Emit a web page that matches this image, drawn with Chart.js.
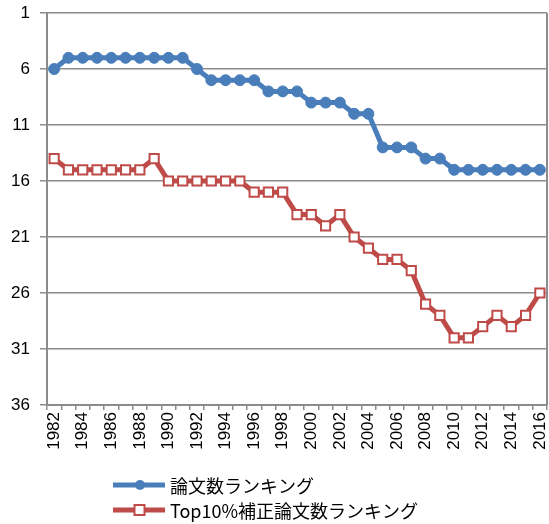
<html>
  <head>
    <script src="https://cdn.jsdelivr.net/npm/chart.js@4.4.0/dist/chart.umd.min.js"></script>
    <style>
      body { margin: 0; background: #fff; }
      #wrap { width: 549px; height: 524px; position: relative; }
    </style>
  </head>
  <body>
    <div id="wrap"><canvas id="myChart" width="549" height="524"></canvas></div>

    <script>
      // years 1982 - 2016
      var years = ['1982','1983','1984','1985','1986','1987','1988','1989','1990','1991',
        '1992','1993','1994','1995','1996','1997','1998','1999','2000','2001',
        '2002','2003','2004','2005','2006','2007','2008','2009','2010','2011',
        '2012','2013','2014','2015','2016']

      var paperRank = [6,5,5,5,5,5,5,5,5,5,
        6,7,7,7,7,8,8,8,9,9,
        9,10,10,13,13,13,14,14,15,15,
        15,15,15,15,15]

      var top10Rank = [14,15,15,15,15,15,15,14,16,16,
        16,16,16,16,17,17,17,19,19,20,
        19,21,22,23,23,24,27,28,30,30,
        29,28,29,28,26]

      var seriesNames = ['論文数ランキング', 'Top10%補正論文数ランキング']
      var blue = '#4A7EBB'
      var red = '#BE4B48'
      var gridColor = '#8C8C8C'
      var tickFont = { family: '"Liberation Sans", Arial, sans-serif', size: 17 }

      // right border + legend drawn under the plot
      var extras = {
        id: 'extras',
        afterDraw: function (chart) {
          var ctx = chart.ctx
          var a = chart.chartArea
          ctx.save()
          ctx.strokeStyle = gridColor
          ctx.lineWidth = 2
          ctx.beginPath()
          ctx.moveTo(a.right, a.top)
          ctx.lineTo(a.right, a.bottom)
          ctx.stroke()

          var rows = [485, 510]
          chart.data.datasets.forEach(function (ds, i) {
            var y = rows[i]
            ctx.strokeStyle = ds.borderColor
            ctx.lineWidth = 5
            ctx.beginPath()
            ctx.moveTo(113, y)
            ctx.lineTo(165, y)
            ctx.stroke()
            ctx.lineWidth = ds.pointBorderWidth
            ctx.fillStyle = ds.pointBackgroundColor
            ctx.strokeStyle = ds.pointBorderColor
            if (ds.pointStyle === 'rect') {
              ctx.fillRect(134.5, y - 5, 10, 10)
              ctx.strokeRect(134.5, y - 5, 10, 10)
            } else {
              ctx.beginPath()
              ctx.arc(140, y, 5, 0, Math.PI * 2)
              ctx.fill()
            }
            ctx.fillStyle = '#000'
            ctx.font = '18px "Noto Sans CJK JP", sans-serif'
            ctx.textBaseline = 'middle'
            ctx.textAlign = 'left'
            ctx.fillText(ds.label, 170, y + 1)
          })
          ctx.restore()
        }
      }

      var ctx = document.getElementById('myChart').getContext('2d')
      var chart = new Chart(ctx, {
        type: 'line',
        data: {
          labels: years,
          datasets: [
            {
              label: seriesNames[0],
              data: paperRank,
              borderColor: blue,
              backgroundColor: blue,
              borderWidth: 5,
              pointStyle: 'circle',
              pointRadius: 5.5,
              pointBackgroundColor: blue,
              pointBorderColor: blue,
              pointBorderWidth: 1,
              tension: 0
            },
            {
              label: seriesNames[1],
              data: top10Rank,
              borderColor: red,
              backgroundColor: red,
              borderWidth: 5,
              pointStyle: 'rect',
              pointRadius: 6.5,
              pointBackgroundColor: '#fff',
              pointBorderColor: red,
              pointBorderWidth: 2,
              tension: 0
            }
          ]
        },
        options: {
          responsive: false,
          animation: false,
          layout: { autoPadding: false, padding: { top: 13, right: 2, left: 0, bottom: 64 } },
          plugins: {
            legend: { display: false },
            tooltip: { enabled: false }
          },
          scales: {
            x: {
              offset: true,
              grid: {
                display: true,
                drawOnChartArea: false,
                drawTicks: true,
                tickLength: 5,
                color: gridColor,
                lineWidth: 1.5,
                offset: true
              },
              border: { display: true, color: gridColor, width: 2 },
              ticks: {
                autoSkip: false,
                minRotation: 90,
                maxRotation: 90,
                padding: 2,
                color: '#000',
                font: tickFont,
                callback: function (v, i) {
                  return i % 2 === 0 ? this.getLabelForValue(v) : ''
                }
              },
              afterFit: function (s) {
                s.height = 55
                s.paddingLeft = 0
                s.paddingRight = 0
              }
            },
            y: {
              reverse: true,
              min: 1,
              max: 36,
              grid: {
                color: gridColor,
                lineWidth: 1.5,
                drawTicks: true,
                tickLength: 7
              },
              border: { display: true, color: gridColor, width: 2 },
              ticks: {
                stepSize: 5,
                padding: 10,
                color: '#000',
                font: tickFont
              },
              afterFit: function (s) {
                s.width = 47
                s.paddingTop = 0
                s.paddingBottom = 0
              }
            }
          }
        },
        plugins: [extras]
      })
    </script>
  </body>
</html>
